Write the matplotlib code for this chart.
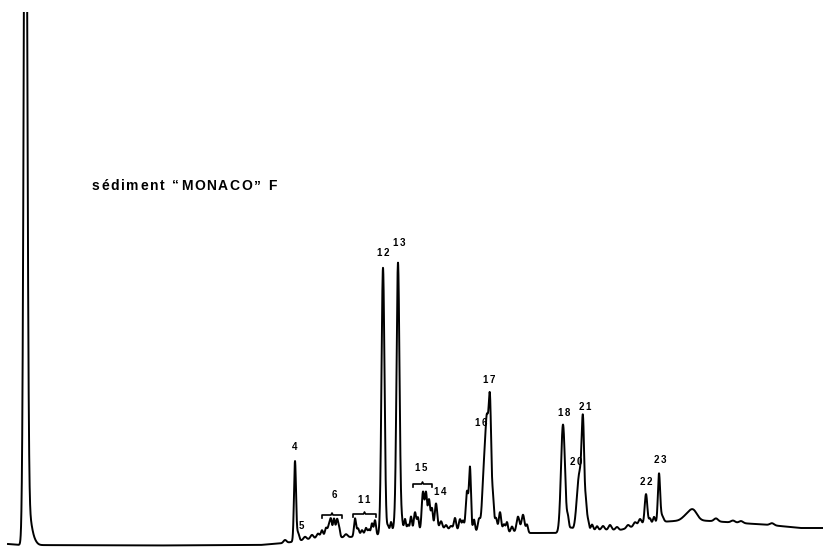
import numpy as np
import matplotlib
matplotlib.use("Agg")
import matplotlib.pyplot as plt

# Baseline drift knots: retention, level
baseline_rt = [8, 20, 150, 260, 285, 310, 350, 380, 420, 450, 530, 557, 600, 620, 640, 660, 690, 710, 740, 770, 800, 823]
baseline_lv = [3, 2, 1.5, 2, 4, 8, 10, 12, 15, 16, 14, 14, 17, 17, 22, 25, 27, 26, 24, 22, 19, 19]

# Peaks: retention, height above baseline, width (sigma)
peak_rt = [25.5, 29, 33,
           285, 295, 298, 305, 312, 318, 322, 326,
           329, 331, 334, 337, 339, 346,
           355, 358, 362, 366, 369, 372, 375,
           383, 388, 391, 394, 398,
           402, 405, 408, 411, 415, 418, 423, 426, 429, 432, 436,
           441, 446, 451, 455, 460, 463, 467, 470, 474, 479,
           484, 487, 490, 493, 496, 500, 504, 507, 512, 518, 523, 527,
           563, 568, 571, 579.5, 583, 586, 588, 592, 597, 603, 610, 617, 628, 635, 640,
           646, 650, 654, 659, 662, 686, 693, 716, 733, 741, 772]
peak_h = [900, 25, 6,
          3, 80, 8, 3, 4, 5, 8, 10,
          12, 16, 19, 17, 10, 3,
          18, 8, 6, 8, 6, 12, 15,
          267, 8, 12, 6, 271,
          10, 14, 8, 16, 20, 14, 40, 36, 32, 22, 28,
          10, 6, 5, 13, 12, 10, 40, 62, 12, 12,
          60, 95, 124, 30, 14, 20, 8, 10, 6, 16, 18, 8,
          108, 12, 4, 58, 92, 22, 10, 6, 4, 4, 5, 3, 3, 4, 6,
          30, 5, 6, 48, 6, 4, 10, 3, 2, 2, 2]
peak_w = [1.6, 2.5, 3,
          1.5, 1.0, 1.2, 1.5, 1.5, 1.5, 1.2, 1.2,
          1.2, 1.0, 1.1, 1.0, 1.0, 1.5,
          1.0, 1.2, 1.2, 1.2, 1.0, 1.0, 1.0,
          1.5, 1.0, 1.0, 1.0, 1.5,
          1.0, 1.0, 1.0, 1.0, 1.2, 1.0, 1.3, 1.0, 1.2, 1.0, 1.3,
          1.5, 1.5, 1.5, 1.2, 1.2, 1.0, 1.3, 1.0, 1.0, 1.2,
          1.8, 1.5, 1.3, 1.0, 1.2, 1.2, 1.2, 1.0, 1.2, 1.5, 1.5, 1.0,
          2.0, 1.0, 1.5, 2.6, 1.3, 0.9, 1.0, 1.2, 1.2, 1.5, 1.5, 1.5, 1.5, 1.5, 1.5,
          1.3, 1.0, 1.0, 1.1, 1.5, 4, 4, 2, 2, 2, 2]

# Peak numbering: label, retention, level
label_txt = ['4', '5', '6', '11', '12', '13', '15', '14', '16', '17', '18', '20', '21', '22', '23']
label_rt = [295, 301, 334, 364, 383, 399, 421, 440, 481, 489, 564, 576, 585, 646, 660]
label_lv = [95, 16, 47, 42, 289, 299, 74, 50, 119, 162, 129, 80, 135, 60, 82]

# Unresolved groups marked with a brace: retention start, end, level
group_start = [322, 353, 413]
group_end = [342, 376, 432]
group_lv = [32, 33, 63]

sample_title = 'sédiment “MONACO” F'

t = np.linspace(8, 823, 16000)
signal = np.interp(t, baseline_rt, baseline_lv)
for rt, h, w in zip(peak_rt, peak_h, peak_w):
    signal = signal + h * np.exp(-0.5 * ((t - rt) / w) ** 2)

W, H = 823, 547
fig = plt.figure(figsize=(W / 100, H / 100), dpi=100)
ax = fig.add_axes([0, 0, 1, 535 / 547])
ax.plot(t, signal, color='black', lw=1.4, solid_joinstyle='round')
ax.set_xlim(0, 823)
ax.set_ylim(0, 535)
ax.axis('off')

renderer = fig.canvas.get_renderer()


def tracked_text(x, y, s, track, ha='left', **kw):
    """Draw a string character by character with extra spacing (pixels)."""
    px, py = ax.transData.transform((x, y))
    widths = []
    for ch in s:
        probe = fig.text(0, 0, ch if ch != ' ' else 'n', **kw)
        w = probe.get_window_extent(renderer).width
        probe.remove()
        widths.append(w * (0.55 if ch == ' ' else 1.0))
    total = sum(widths) + track * (len(s) - 1)
    cur = px - total / 2 if ha == 'center' else px
    for ch, w in zip(s, widths):
        if ch != ' ':
            fig.text(cur / W, py / H, ch, ha='left', **kw)
        cur += w + track


for txt, x, y in zip(label_txt, label_rt, label_lv):
    tracked_text(x, y, txt, 1.5, ha='center', va='bottom', fontsize=7,
                 fontweight='bold', family='Liberation Sans')

for x0, x1, y in zip(group_start, group_end, group_lv):
    xm = 0.5 * (x0 + x1)
    ax.plot([x0, x0, xm - 1, xm, xm + 1, x1, x1],
            [y - 3, y, y, y + 2, y, y, y - 3],
            color='black', lw=1.2, clip_on=False)

tracked_text(92, 547 - 190, sample_title, 1.6, va='baseline',
             fontsize=10, fontweight='bold', family='Liberation Sans')

fig.savefig('out.png', dpi=100, facecolor='white')
